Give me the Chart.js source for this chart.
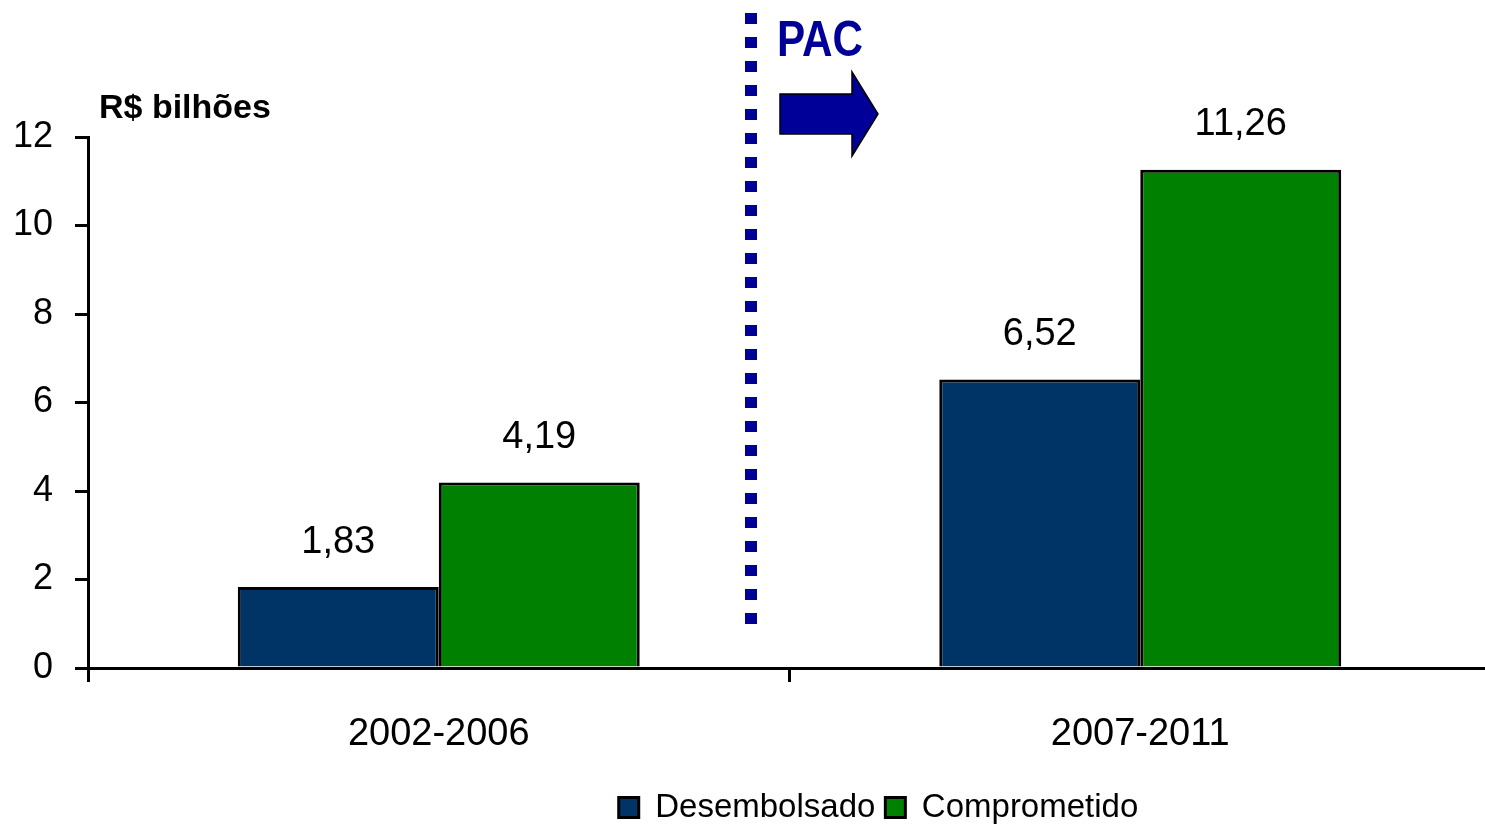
<!DOCTYPE html>
<html>
<head>
<meta charset="utf-8">
<script src="https://cdn.jsdelivr.net/npm/chart.js@4"></script>
<style>
  html, body { margin: 0; padding: 0; background: #fff; overflow: hidden; }
  #wrap { width: 1491px; height: 826px; }
</style>
</head>
<body>
<div id="wrap"><canvas id="myChart"></canvas></div>
<script>
// data
const periods = ['2002-2006', '2007-2011'];
const desembolsado = [1.83, 6.52];
const comprometido = [4.19, 11.26];
const yTicks = [0, 2, 4, 6, 8, 10, 12];

const BLUE = '#003366';
const GREEN = '#008000';
const NAVY = '#000099';
const FONT = '"Liberation Sans", Arial, sans-serif';

// value labels above each bar, comma decimals
const valueLabels = {
    id: 'valueLabels',
    afterDatasetsDraw(chart) {
        const ctx = chart.ctx;
        ctx.save();
        ctx.font = '38px ' + FONT;
        ctx.fillStyle = '#000';
        ctx.textAlign = 'center';
        ctx.textBaseline = 'middle';
        chart.data.datasets.forEach((ds, i) => {
            chart.getDatasetMeta(i).data.forEach((bar, j) => {
                const txt = ds.data[j].toFixed(2).replace('.', ',');
                ctx.fillText(txt, bar.x, bar.y - 45);
            });
        });
        ctx.restore();
    }
};

// unit label, dotted PAC divider and arrow
const decorations = {
    id: 'decorations',
    afterDraw(chart) {
        const ctx = chart.ctx;
        ctx.save();
        ctx.font = 'bold 34px ' + FONT;
        ctx.fillStyle = '#000';
        ctx.textBaseline = 'alphabetic';
        ctx.fillText('R$ bilhões', 99, 118);

        // dotted line
        ctx.fillStyle = NAVY;
        for (let y = 13; y < 622; y += 24) {
            ctx.fillRect(745, y, 12, 11);
        }

        // PAC text (condensed)
        ctx.font = 'bold 50px ' + FONT;
        const w = ctx.measureText('PAC').width;
        ctx.translate(777, 56);
        ctx.scale(86 / w, 1);
        ctx.fillText('PAC', 0, 0);
        ctx.setTransform(1, 0, 0, 1, 0, 0);

        // arrow
        ctx.beginPath();
        ctx.moveTo(780, 94);
        ctx.lineTo(852, 94);
        ctx.lineTo(852, 72);
        ctx.lineTo(878, 114);
        ctx.lineTo(852, 156);
        ctx.lineTo(852, 134);
        ctx.lineTo(780, 134);
        ctx.closePath();
        ctx.fillStyle = NAVY;
        ctx.fill();
        ctx.lineWidth = 1.5;
        ctx.strokeStyle = '#000';
        ctx.stroke();
        ctx.restore();
    }
};

// nudge legend to the right like the original
const legendShift = {
    id: 'legendShift',
    afterLayout(chart) {
        chart.legend.left += 133;
        chart.legend.right += 133;
    }
};

const data = {
    labels: periods,
    datasets: [{
        label: 'Desembolsado',
        data: desembolsado,
        backgroundColor: BLUE,
        borderColor: '#000',
        borderWidth: 3
    },
    {
        label: 'Comprometido',
        data: comprometido,
        backgroundColor: GREEN,
        borderColor: '#000',
        borderWidth: 3
    }]
};

const config = {
    type: 'bar',
    data,
    plugins: [valueLabels, decorations, legendShift],
    options: {
        responsive: true,
        maintainAspectRatio: false,
        animation: false,
        layout: {
            padding: { top: 137, right: 0, bottom: -8, left: 0 }
        },
        datasets: {
            bar: { categoryPercentage: 0.573, barPercentage: 1.0 }
        },
        scales: {
            x: {
                grid: {
                    offset: true,
                    drawOnChartArea: false,
                    color: '#000',
                    lineWidth: 3,
                    tickLength: 14
                },
                border: { color: '#000', width: 3 },
                ticks: {
                    color: '#000',
                    font: { family: FONT, size: 38 },
                    padding: 30
                },
                afterFit(scale) { scale.height = 113; }
            },
            y: {
                min: 0,
                max: 12,
                afterBuildTicks(scale) {
                    scale.ticks = yTicks.map(v => ({ value: v }));
                },
                grid: {
                    drawOnChartArea: false,
                    color: '#000',
                    lineWidth: 3,
                    tickLength: 13
                },
                border: { color: '#000', width: 3 },
                ticks: {
                    color: '#000',
                    font: { family: FONT, size: 36 },
                    padding: 22
                },
                afterFit(scale) { scale.width = 88; }
            }
        },
        plugins: {
            legend: {
                position: 'bottom',
                labels: {
                    color: '#000',
                    font: { family: FONT, size: 33 },
                    boxWidth: 20,
                    boxHeight: 20,
                    padding: 10,
                    useBorderRadius: false
                }
            },
            tooltip: { enabled: false }
        }
    }
};

const myChart = new Chart(document.getElementById('myChart'), config);
</script>
</body>
</html>
